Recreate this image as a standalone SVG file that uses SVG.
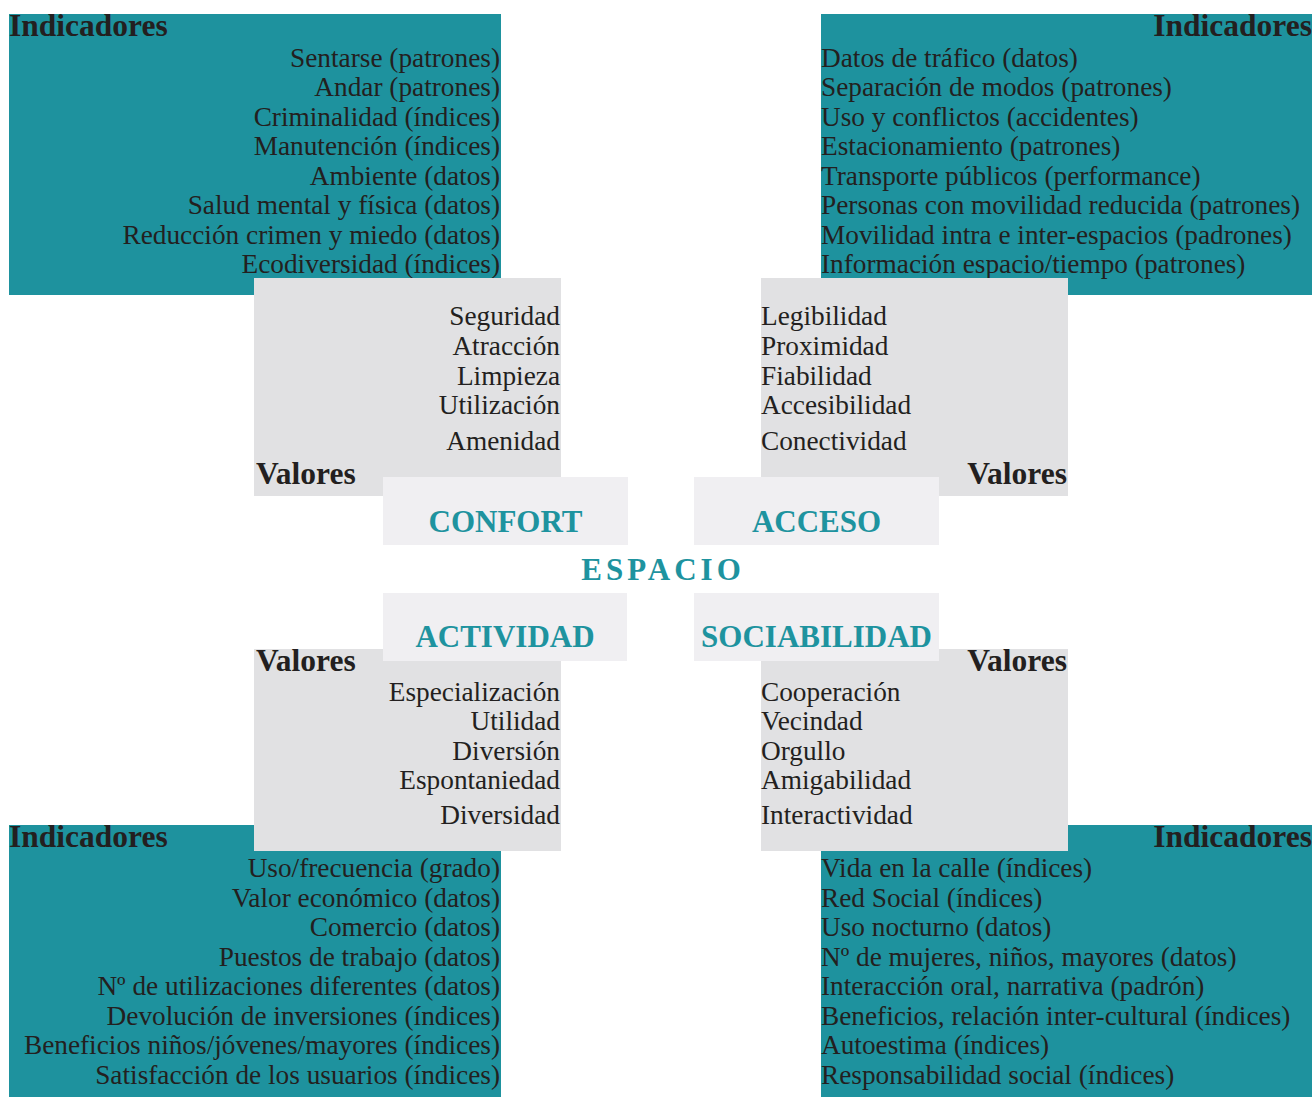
<svg xmlns="http://www.w3.org/2000/svg" width="1312" height="1097" viewBox="0 0 1312 1097">
<style>
.teal{fill:#1e929e}
.gray{fill:#e1e1e3}
.light{fill:#f0eff2}
text{font-family:"Liberation Serif","Times New Roman",serif;fill:#231f20}
.t{font-size:27.3px}
.h{font-size:31.5px;font-weight:bold}
.ti{font-size:31px;font-weight:bold;fill:#1e939f;text-anchor:middle}
.r{text-anchor:end}
</style>
<rect width="1312" height="1097" fill="#ffffff"/>
<g id="indicadores-confort">
<rect class="teal" x="9" y="14" width="492" height="281"/>
<text class="h" x="9" y="36">Indicadores</text>
<text class="t r" x="500" y="66.5">Sentarse (patrones)</text>
<text class="t r" x="500" y="96">Andar (patrones)</text>
<text class="t r" x="500" y="125.5">Criminalidad (índices)</text>
<text class="t r" x="500" y="155">Manutención (índices)</text>
<text class="t r" x="500" y="184.5">Ambiente (datos)</text>
<text class="t r" x="500" y="214">Salud mental y física (datos)</text>
<text class="t r" x="500" y="243.5">Reducción crimen y miedo (datos)</text>
<text class="t r" x="500" y="273">Ecodiversidad (índices)</text>
</g>
<g id="indicadores-acceso">
<rect class="teal" x="821" y="14" width="491" height="281"/>
<text class="h r" x="1312" y="36">Indicadores</text>
<text class="t" x="821" y="66.5">Datos de tráfico (datos)</text>
<text class="t" x="821" y="96">Separación de modos (patrones)</text>
<text class="t" x="821" y="125.5">Uso y conflictos (accidentes)</text>
<text class="t" x="821" y="155">Estacionamiento (patrones)</text>
<text class="t" x="821" y="184.5">Transporte públicos (performance)</text>
<text class="t" x="821" y="214">Personas con movilidad reducida (patrones)</text>
<text class="t" x="821" y="243.5">Movilidad intra e inter-espacios (padrones)</text>
<text class="t" x="821" y="273">Información espacio/tiempo (patrones)</text>
</g>
<g id="indicadores-actividad">
<rect class="teal" x="9" y="825" width="492" height="272"/>
<text class="h" x="9" y="847">Indicadores</text>
<text class="t r" x="500" y="877">Uso/frecuencia (grado)</text>
<text class="t r" x="500" y="906.5">Valor económico (datos)</text>
<text class="t r" x="500" y="936">Comercio (datos)</text>
<text class="t r" x="500" y="965.5">Puestos de trabajo (datos)</text>
<text class="t r" x="500" y="995">Nº de utilizaciones diferentes (datos)</text>
<text class="t r" x="500" y="1024.5">Devolución de inversiones (índices)</text>
<text class="t r" x="500" y="1054">Beneficios niños/jóvenes/mayores (índices)</text>
<text class="t r" x="500" y="1083.5">Satisfacción de los usuarios (índices)</text>
</g>
<g id="indicadores-sociabilidad">
<rect class="teal" x="821" y="825" width="491" height="272"/>
<text class="h r" x="1312" y="847">Indicadores</text>
<text class="t" x="821" y="877">Vida en la calle (índices)</text>
<text class="t" x="821" y="906.5">Red Social (índices)</text>
<text class="t" x="821" y="936">Uso nocturno (datos)</text>
<text class="t" x="821" y="965.5">Nº de mujeres, niños, mayores (datos)</text>
<text class="t" x="821" y="995">Interacción oral, narrativa (padrón)</text>
<text class="t" x="821" y="1024.5">Beneficios, relación inter-cultural (índices)</text>
<text class="t" x="821" y="1054">Autoestima (índices)</text>
<text class="t" x="821" y="1083.5">Responsabilidad social (índices)</text>
</g>
<g id="valores-confort">
<rect class="gray" x="254" y="278" width="307" height="218"/>
<text class="t r" x="560" y="325">Seguridad</text>
<text class="t r" x="560" y="355">Atracción</text>
<text class="t r" x="560" y="385">Limpieza</text>
<text class="t r" x="560" y="414">Utilización</text>
<text class="t r" x="560" y="450">Amenidad</text>
<text class="h" x="256" y="484">Valores</text>
</g>
<g id="valores-acceso">
<rect class="gray" x="761" y="278" width="307" height="218"/>
<text class="t" x="761" y="325">Legibilidad</text>
<text class="t" x="761" y="355">Proximidad</text>
<text class="t" x="761" y="385">Fiabilidad</text>
<text class="t" x="761" y="414">Accesibilidad</text>
<text class="t" x="761" y="450">Conectividad</text>
<text class="h r" x="1067" y="484">Valores</text>
</g>
<g id="valores-actividad">
<rect class="gray" x="254" y="649" width="307" height="202"/>
<text class="h" x="256" y="671">Valores</text>
<text class="t r" x="560" y="701">Especialización</text>
<text class="t r" x="560" y="730">Utilidad</text>
<text class="t r" x="560" y="759.5">Diversión</text>
<text class="t r" x="560" y="789">Espontaniedad</text>
<text class="t r" x="560" y="824">Diversidad</text>
</g>
<g id="valores-sociabilidad">
<rect class="gray" x="761" y="649" width="307" height="202"/>
<text class="h r" x="1067" y="671">Valores</text>
<text class="t" x="761" y="701">Cooperación</text>
<text class="t" x="761" y="730">Vecindad</text>
<text class="t" x="761" y="759.5">Orgullo</text>
<text class="t" x="761" y="789">Amigabilidad</text>
<text class="t" x="761" y="824">Interactividad</text>
</g>
<g id="confort">
<rect class="light" x="383" y="477" width="245" height="68"/>
<text class="ti" x="505.5" y="531.5">CONFORT</text>
</g>
<g id="acceso">
<rect class="light" x="694" y="477" width="245" height="68"/>
<text class="ti" x="816.5" y="531.5">ACCESO</text>
</g>
<g id="espacio">
<text class="ti" x="663" y="580" style="letter-spacing:4px">ESPACIO</text>
</g>
<g id="actividad">
<rect class="light" x="383" y="593" width="244" height="68"/>
<text class="ti" x="505" y="647">ACTIVIDAD</text>
</g>
<g id="sociabilidad">
<rect class="light" x="694" y="593" width="245" height="68"/>
<text class="ti" x="816.5" y="647">SOCIABILIDAD</text>
</g>
<g id="connectors"></g>
</svg>
